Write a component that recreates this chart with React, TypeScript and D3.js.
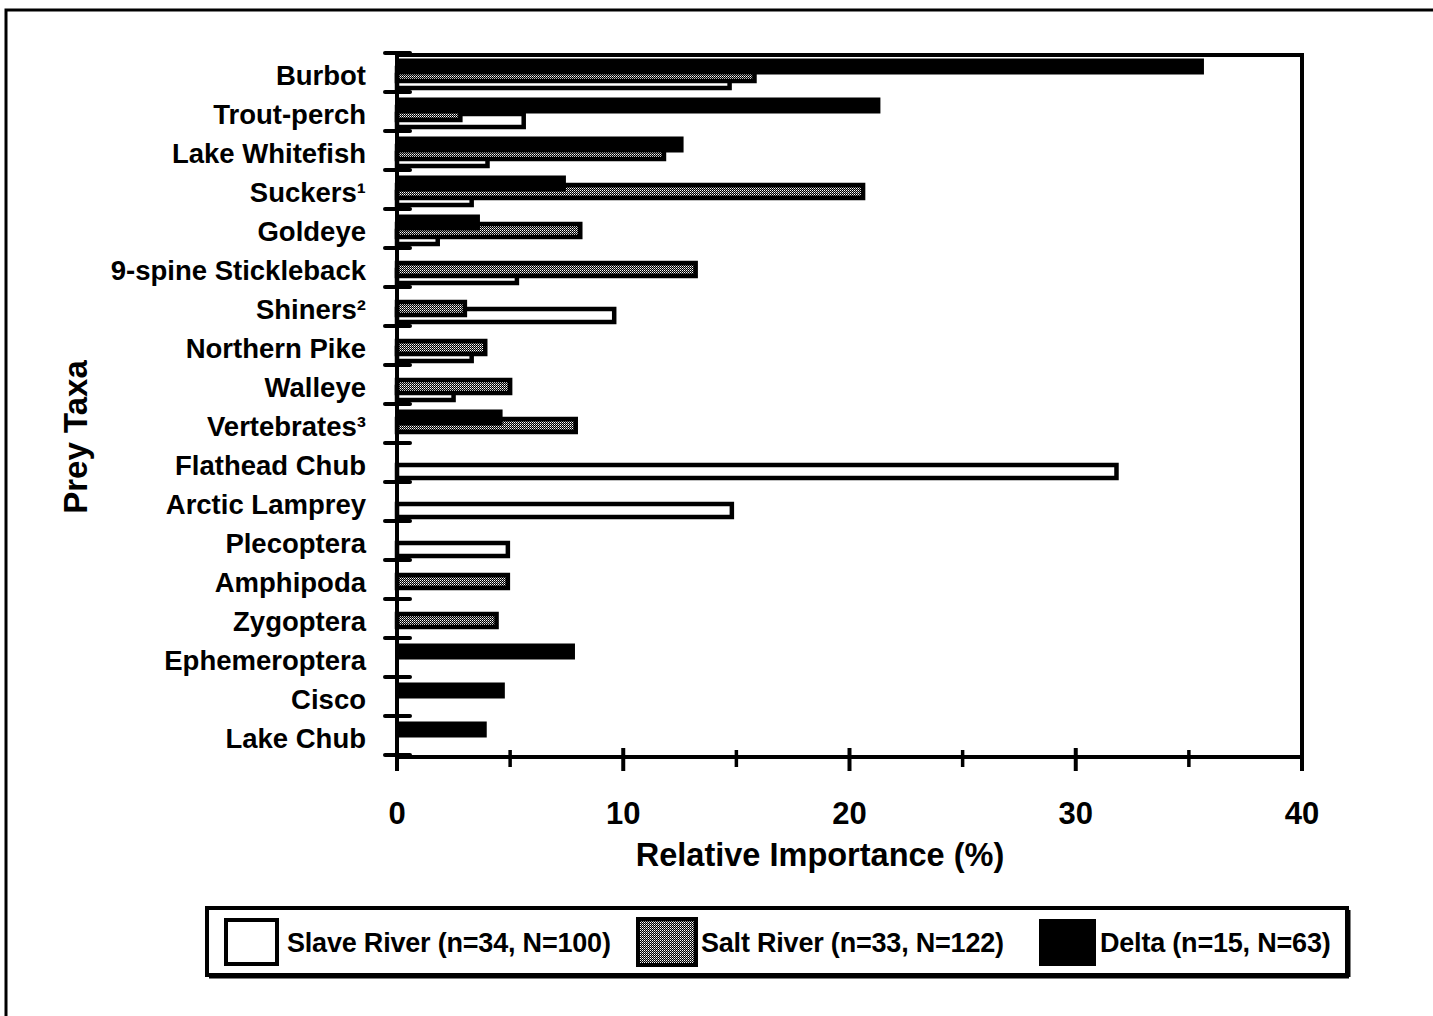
import React from "react";
import * as d3 from "d3";

const categories = [
  "Burbot", "Trout-perch", "Lake Whitefish", "Suckers¹", "Goldeye",
  "9-spine Stickleback", "Shiners²", "Northern Pike", "Walleye", "Vertebrates³",
  "Flathead Chub", "Arctic Lamprey", "Plecoptera", "Amphipoda", "Zygoptera",
  "Ephemeroptera", "Cisco", "Lake Chub",
];
const slaveRiver = [14.7, 5.6, 4.0, 3.3, 1.8, 5.3, 9.6, 3.3, 2.5, 0, 31.8, 14.8, 4.9, 0, 0, 0, 0, 0];
const saltRiver = [15.8, 2.8, 11.8, 20.6, 8.1, 13.2, 3.0, 3.9, 5.0, 7.9, 0, 0, 0, 4.9, 4.4, 0, 0, 0];
const delta = [35.6, 21.3, 12.6, 7.4, 3.6, 0, 0, 0, 0, 4.6, 0, 0, 0, 0, 0, 7.8, 4.7, 3.9];
const majorTicks = [0, 10, 20, 30, 40];
const minorTicks = [5, 15, 25, 35];
const legendLabels = ["Slave River (n=34, N=100)", "Salt River (n=33, N=122)", "Delta (n=15, N=63)"];

const FONT = "'Liberation Sans', Arial, Helvetica, sans-serif";

export default function App() {
  const left = 397, right = 1302, top = 55, bottom = 757;
  const x = d3.scaleLinear().domain([0, 40]).range([left, right]);
  const y = d3.scaleBand<string>().domain(categories).range([top, bottom]);
  const bw = y.bandwidth();
  const barH = 13;

  const series = [
    { key: "slave", values: slaveRiver, off: 20, fill: "#fff", sw: 4.5 },
    { key: "salt", values: saltRiver, off: 13, fill: "url(#stipple)", sw: 4.5 },
    { key: "delta", values: delta, off: 5, fill: "#000", sw: 3 },
  ];

  const boundaries = d3.range(categories.length + 1).map((i) => top + i * bw);

  return (
    <svg width={1433} height={1016} style={{ position: "absolute", left: 0, top: 0, background: "#fff" }}>
      <defs>
        <pattern id="stipple" patternUnits="userSpaceOnUse" width={2} height={2}>
          <rect x={0} y={0} width={2} height={2} fill="#000" />
          <rect x={0} y={0} width={1} height={1} fill="#fff" />
          <rect x={1} y={1} width={1} height={1} fill="#999" />
        </pattern>
      </defs>
      <rect x={6} y={10} width={1500} height={1100} fill="none" stroke="#000" strokeWidth={3} />

      {/* bars */}
      {series.map((s) =>
        categories.map((c, i) =>
          s.values[i] > 0 ? (
            <rect
              key={s.key + i}
              x={x(0)}
              y={(y(c) as number) + s.off}
              width={x(s.values[i]) - x(0)}
              height={barH}
              fill={s.fill}
              stroke="#000"
              strokeWidth={s.sw}
            />
          ) : null
        )
      )}

      {/* frame */}
      <rect x={left} y={top} width={right - left} height={bottom - top} fill="none" stroke="#000" strokeWidth={4} />

      {/* y ticks */}
      {boundaries.map((b, i) => (
        <line key={"yt" + i} x1={385} x2={410} y1={b - 2} y2={b - 2} stroke="#000" strokeWidth={4} strokeLinecap="round" />
      ))}

      {/* x ticks */}
      {majorTicks.map((t) => (
        <line key={"mt" + t} x1={x(t)} x2={x(t)} y1={bottom - 9} y2={bottom + 14} stroke="#000" strokeWidth={4} />
      ))}
      {minorTicks.map((t) => (
        <line key={"nt" + t} x1={x(t)} x2={x(t)} y1={bottom - 7} y2={bottom + 10} stroke="#000" strokeWidth={3.5} />
      ))}
      {majorTicks.map((t) => (
        <text key={"tl" + t} x={x(t)} y={824} textAnchor="middle" fontFamily={FONT} fontWeight="bold" fontSize={31} fill="#000">
          {t}
        </text>
      ))}

      {/* category labels */}
      {categories.map((c) => (
        <text key={"cl" + c} x={366} y={(y(c) as number) + bw / 2 + 10} textAnchor="end" fontFamily={FONT} fontWeight="bold" fontSize={27.5} letterSpacing={0} fill="#000">
          {c}
        </text>
      ))}

      {/* axis titles */}
      <text x={820} y={866} textAnchor="middle" fontFamily={FONT} fontWeight="bold" fontSize={32.5} fill="#000">
        Relative Importance (%)
      </text>
      <text transform="translate(87,437) rotate(-90)" textAnchor="middle" fontFamily={FONT} fontWeight="bold" fontSize={33} fill="#000">
        Prey Taxa
      </text>

      {/* legend */}
      <rect x={207} y={908} width={1140} height={67} fill="#fff" stroke="#000" strokeWidth={4} />
      <line x1={209} x2={1349} y1={977} y2={977} stroke="#000" strokeWidth={3} />
      <line x1={1349} x2={1349} y1={910} y2={977} stroke="#000" strokeWidth={3} />
      <rect x={226} y={920} width={51} height={44} fill="#fff" stroke="#000" strokeWidth={4} />
      <rect x={638} y={919} width={58} height={46} fill="url(#stipple)" stroke="#000" strokeWidth={4} />
      <rect x={1040} y={920} width={55} height={45} fill="#000" stroke="#000" strokeWidth={2} />
      <text x={287} y={952} fontFamily={FONT} fontWeight="bold" fontSize={27} letterSpacing={-0.2} fill="#000">{legendLabels[0]}</text>
      <text x={701} y={952} fontFamily={FONT} fontWeight="bold" fontSize={27} letterSpacing={-0.2} fill="#000">{legendLabels[1]}</text>
      <text x={1100} y={952} fontFamily={FONT} fontWeight="bold" fontSize={27} letterSpacing={-0.2} fill="#000">{legendLabels[2]}</text>
    </svg>
  );
}
